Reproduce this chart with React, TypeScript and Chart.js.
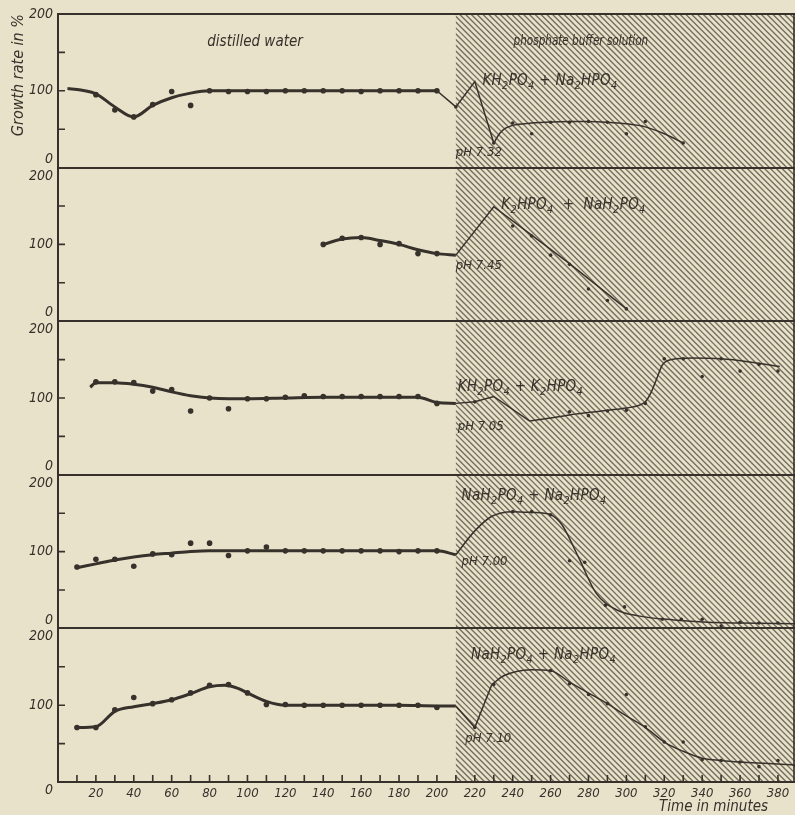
import React, { useEffect, useRef } from 'react';
import { Chart, registerables } from 'chart.js';

Chart.register(...registerables);

const INK = '#36312a';
const PAPER = '#e8e2cb';
const HATCH_LINE = 'rgba(95,90,75,0.85)';
const FONT = '"Liberation Sans Narrow", "DejaVu Sans Condensed", "Liberation Sans", sans-serif';
const HATCH_START = 210;

// x-axis tick values (minutes)
const xTickStep = 10;
const xLabelEvery = 20;
const xMax = 389;

// ---------- Panel 1: KH2PO4 + Na2HPO4, pH 7.32 ----------
const p1PointT = [20, 30, 40, 50, 60, 70, 80, 90, 100, 110, 120, 130, 140, 150, 160, 170, 180, 190, 200, 210, 230, 240, 250, 260, 270, 280, 290, 300, 310, 330];
const p1PointV = [95, 75, 66, 82, 99, 81, 100, 99, 99, 99, 100, 100, 100, 100, 99, 100, 100, 100, 100, 79, 32, 58, 44, 59, 59, 60, 59, 44, 60, 32];
const p1LeftT = [5, 12, 20, 30, 40, 50, 60, 70, 80, 100, 120, 140, 160, 180, 200];
const p1LeftV = [103, 101, 96, 79, 66, 81, 91, 97, 100, 100, 100, 100, 100, 100, 100];
const p1KinkT = [200, 210, 220, 230];
const p1KinkV = [100, 79, 112, 32];
const p1RightT = [230, 233, 236, 240, 250, 260, 270, 280, 290, 300, 310, 320, 330];
const p1RightV = [32, 44, 51, 55, 58, 59.5, 60, 60, 59, 57, 53, 44, 32];

// ---------- Panel 2: K2HPO4 + NaH2PO4, pH 7.45 ----------
const p2PointT = [140, 150, 160, 170, 180, 190, 200, 240, 250, 260, 270, 280, 290, 300];
const p2PointV = [100, 108, 109, 100, 101, 88, 88, 124, 111, 86, 74, 42, 27, 16];
const p2LeftT = [140, 150, 160, 170, 180, 190, 200, 210];
const p2LeftV = [100, 107, 109, 105, 100, 93, 88, 86];
const p2KinkT = [210, 230, 250, 270, 300];
const p2KinkV = [86, 149, 112, 75, 16];

// ---------- Panel 3: KH2PO4 + K2HPO4, pH 7.05 ----------
const p3PointT = [20, 30, 40, 50, 60, 70, 80, 90, 100, 110, 120, 130, 140, 150, 160, 170, 180, 190, 200, 220, 270, 280, 290, 300, 310, 320, 330, 340, 350, 360, 370, 380];
const p3PointV = [121, 121, 120, 109, 111, 83, 100, 86, 99, 99, 101, 103, 102, 102, 102, 102, 102, 102, 93, 95, 82, 77, 83, 84, 93, 151, 151, 128, 151, 135, 144, 135];
const p3LeftT = [17, 20, 30, 40, 50, 60, 70, 80, 90, 100, 120, 140, 160, 180, 190, 200, 210];
const p3LeftV = [114, 120, 120, 118, 114, 108, 103, 100, 99, 99, 100, 101, 101, 101, 101, 94, 93];
const p3KinkT = [210, 220, 230, 249];
const p3KinkV = [93, 95, 102, 70];
const p3RightT = [249, 260, 270, 280, 290, 300, 306, 310, 313, 316, 319, 324, 335, 350, 365, 381];
const p3RightV = [70, 74, 78, 81, 84, 87, 90, 95, 107, 125, 143, 150, 152, 151, 147, 141];

// ---------- Panel 4: NaH2PO4 + Na2HPO4, pH 7.00 ----------
const p4PointT = [10, 20, 30, 40, 50, 60, 70, 80, 90, 100, 110, 120, 130, 140, 150, 160, 170, 180, 190, 200, 240, 250, 260, 270, 278, 289, 299, 319, 329, 340, 350, 360, 370, 380];
const p4PointV = [80, 90, 90, 81, 97, 96, 111, 111, 95, 101, 106, 101, 101, 101, 101, 101, 101, 100, 101, 101, 152, 152, 148, 88, 86, 30, 28, 12, 12, 12, 3, 8, 7, 7];
const p4LeftT = [10, 20, 30, 40, 50, 60, 70, 80, 100, 120, 140, 160, 180, 200, 210];
const p4LeftV = [79, 84, 89, 93, 96, 98, 100, 101, 101, 101, 101, 101, 101, 101, 96];
const p4RightT = [210, 220, 229, 240, 250, 260, 266, 270, 276, 284, 295, 307, 325, 343, 360, 389];
const p4RightV = [96, 127, 146, 152, 151, 148, 135, 117, 86, 46, 24, 16, 11, 8, 7, 6];

// ---------- Panel 5: NaH2PO4 + Na2HPO4, pH 7.10 ----------
const p5PointT = [10, 20, 30, 40, 50, 60, 70, 80, 90, 100, 110, 120, 130, 140, 150, 160, 170, 180, 190, 200, 220, 230, 260, 270, 280, 290, 300, 310, 320, 330, 340, 350, 360, 370, 380];
const p5PointV = [71, 71, 94, 110, 102, 107, 116, 126, 127, 116, 101, 101, 100, 100, 100, 100, 100, 100, 100, 97, 71, 127, 145, 128, 114, 102, 114, 72, 52, 52, 29, 28, 26, 20, 28];
const p5LeftT = [10, 20, 30, 40, 50, 60, 70, 80, 88, 95, 100, 110, 120, 140, 160, 180, 200, 210];
const p5LeftV = [71, 72, 92, 98, 102, 107, 115, 124, 126, 122, 116, 105, 100, 100, 100, 100, 99, 99];
const p5KinkT = [210, 220, 229];
const p5KinkV = [99, 71, 127];
const p5RightT = [229, 235, 242, 250, 260, 270, 282, 290, 300, 310, 320, 330, 340, 350, 360, 375, 389];
const p5RightV = [127, 138, 144, 146, 145, 130, 113, 102, 86, 71, 52, 40, 31, 28, 26, 24, 22];

// Text
const headerLeft = 'distilled water';
const headerRight = 'phosphate buffer solution';
const saltLabels = ['KH_2PO_4 + Na_2HPO_4', 'K_2HPO_4  +  NaH_2PO_4', 'KH_2PO_4 + K_2HPO_4', 'NaH_2PO_4 + Na_2HPO_4', 'NaH_2PO_4 + Na_2HPO_4'];
const phLabels = ['pH 7.32', 'pH 7.45', 'pH 7.05', 'pH 7.00', 'pH 7.10'];
const yTitle = 'Growth rate in %';
const xTitle = 'Time in minutes';

// label anchors in data coordinates (minutes, growth %)
const saltAnchor = [[224, 112], [234, 151], [211, 114], [213, 172], [218, 165]];
const phAnchor = [[210, 19], [210, 73], [211, 63], [213, 87], [215, 56]];

const zip = (t: number[], v: number[]) => t.map((x, i) => ({ x, y: v[i] }));

type Curve = { t: number[]; v: number[]; smooth: boolean; thin: boolean };
const panels: { points: [number[], number[]]; curves: Curve[] }[] = [
  {
    points: [p1PointT, p1PointV],
    curves: [
      { t: p1LeftT, v: p1LeftV, smooth: true, thin: false },
      { t: p1KinkT, v: p1KinkV, smooth: false, thin: true },
      { t: p1RightT, v: p1RightV, smooth: true, thin: true },
    ],
  },
  {
    points: [p2PointT, p2PointV],
    curves: [
      { t: p2LeftT, v: p2LeftV, smooth: true, thin: false },
      { t: p2KinkT, v: p2KinkV, smooth: false, thin: true },
    ],
  },
  {
    points: [p3PointT, p3PointV],
    curves: [
      { t: p3LeftT, v: p3LeftV, smooth: true, thin: false },
      { t: p3KinkT, v: p3KinkV, smooth: false, thin: true },
      { t: p3RightT, v: p3RightV, smooth: true, thin: true },
    ],
  },
  {
    points: [p4PointT, p4PointV],
    curves: [
      { t: p4LeftT, v: p4LeftV, smooth: true, thin: false },
      { t: p4RightT, v: p4RightV, smooth: true, thin: true },
    ],
  },
  {
    points: [p5PointT, p5PointV],
    curves: [
      { t: p5LeftT, v: p5LeftV, smooth: true, thin: false },
      { t: p5KinkT, v: p5KinkV, smooth: false, thin: true },
      { t: p5RightT, v: p5RightV, smooth: true, thin: true },
    ],
  },
];

function drawRich(ctx: CanvasRenderingContext2D, text: string, x: number, y: number, size: number) {
  let cx = x;
  for (let i = 0; i < text.length; i++) {
    let c = text[i];
    let sub = false;
    if (c === '_' && i + 1 < text.length) {
      c = text[i + 1];
      i++;
      sub = true;
    }
    const s = sub ? size * 0.72 : size;
    ctx.font = `italic ${s}px ${FONT}`;
    ctx.fillText(c, cx, sub ? y + size * 0.32 : y);
    cx += ctx.measureText(c).width + (sub ? 0.5 : 0.3);
  }
}

function drawSqueezed(ctx: CanvasRenderingContext2D, text: string, x: number, y: number, size: number, squeeze: number) {
  ctx.save();
  ctx.translate(x, y);
  ctx.scale(squeeze, 1);
  ctx.font = `italic ${size}px ${FONT}`;
  ctx.fillText(text, 0, 0);
  ctx.restore();
}

const paperPlugin = {
  id: 'paper',
  beforeDraw(chart: any) {
    const { ctx, chartArea: a, scales } = chart;
    ctx.save();
    ctx.fillStyle = PAPER;
    ctx.fillRect(0, 0, chart.width, chart.height);
    const x0 = scales.x.getPixelForValue(HATCH_START);
    ctx.beginPath();
    ctx.rect(x0, a.top, a.right - x0, a.bottom - a.top);
    ctx.clip();
    ctx.beginPath();
    ctx.strokeStyle = HATCH_LINE;
    ctx.lineWidth = 1.4;
    const h = a.bottom - a.top;
    for (let sx = x0 - h; sx < a.right + 2; sx += 5.8) {
      ctx.moveTo(sx, a.top);
      ctx.lineTo(sx + h, a.bottom);
    }
    ctx.stroke();
    ctx.restore();
  },
  afterDraw(chart: any) {
    const { ctx, chartArea: a, scales } = chart;
    const xs = scales.x;
    ctx.save();
    ctx.strokeStyle = INK;
    ctx.fillStyle = INK;
    ctx.lineWidth = 1.6;
    ctx.beginPath();
    // inner y ticks
    for (let p = 0; p < 5; p++) {
      const ys = scales['y' + p];
      for (const v of [50, 100, 150]) {
        const py = ys.getPixelForValue(v);
        ctx.moveTo(a.left, py);
        ctx.lineTo(a.left + 7, py);
      }
    }
    // inner x ticks
    for (let t = xTickStep; t <= xMax; t += xTickStep) {
      const px = xs.getPixelForValue(t);
      ctx.moveTo(px, a.bottom);
      ctx.lineTo(px, a.bottom - 7);
    }
    // right frame
    ctx.moveTo(a.right - 1, a.top);
    ctx.lineTo(a.right - 1, a.bottom);
    ctx.stroke();

    // headers
    const y0 = scales.y0;
    ctx.textBaseline = 'middle';
    ctx.textAlign = 'center';
    drawSqueezed(ctx, headerLeft, xs.getPixelForValue(104), y0.getPixelForValue(164), 15, 1);
    drawSqueezed(ctx, headerRight, xs.getPixelForValue(276), y0.getPixelForValue(164), 14.5, 0.8);

    ctx.textAlign = 'left';
    for (let p = 0; p < 5; p++) {
      const ys = scales['y' + p];
      drawRich(ctx, saltLabels[p], xs.getPixelForValue(saltAnchor[p][0]), ys.getPixelForValue(saltAnchor[p][1]), 15);
      drawSqueezed(ctx, phLabels[p], xs.getPixelForValue(phAnchor[p][0]), ys.getPixelForValue(phAnchor[p][1]), 13, 1);
    }

    // x title
    ctx.textAlign = 'center';
    drawSqueezed(ctx, xTitle, xs.getPixelForValue(346), a.bottom + 25, 15, 1);
    ctx.restore();
  },
};

function yLabel(v: number, p: number): string | string[] {
  if (v === 200) return p === 0 ? '200' : ['', '200'];
  if (v === 100) return '100';
  if (v === 0) return p === 4 ? ['', '0'] : ['0', ''];
  return '';
}

function buildConfig(): any {
  const datasets: any[] = [];
  panels.forEach((panel, p) => {
    const yAxisID = 'y' + p;
    datasets.push({
      type: 'line',
      data: zip(panel.points[0], panel.points[1]),
      yAxisID,
      xAxisID: 'x',
      showLine: false,
      pointRadius: (c: any) => (c.raw && c.raw.x >= HATCH_START ? 1.8 : 2.8),
      pointBackgroundColor: INK,
      pointBorderWidth: 0,
    });
    panel.curves.forEach((c) => {
      datasets.push({
        type: 'line',
        data: zip(c.t, c.v),
        yAxisID,
        xAxisID: 'x',
        borderColor: INK,
        borderWidth: c.thin ? 1.5 : 3,
        pointRadius: 0,
        tension: 0,
        cubicInterpolationMode: c.smooth ? 'monotone' : 'default',
        fill: false,
      });
    });
  });

  const scales: any = {
    x: {
      type: 'linear',
      position: 'bottom',
      min: 0,
      max: xMax,
      ticks: {
        stepSize: xTickStep,
        includeBounds: false,
        autoSkip: false,
        maxRotation: 0,
        padding: 4,
        color: INK,
        font: { family: FONT, size: 13, style: 'italic' },
        callback: (v: number) => (v % xLabelEvery === 0 && v !== 0 ? String(v) : ''),
      },
      grid: { display: false, drawTicks: false },
      border: { display: true, color: INK, width: 2 },
      afterFit: (s: any) => {
        s.height = 33;
        s.paddingLeft = 0;
        s.paddingRight = 0;
      },
    },
  };
  for (let p = 0; p < 5; p++) {
    scales['y' + p] = {
      type: 'linear',
      position: 'left',
      stack: 'panels',
      stackWeight: 1,
      weight: 5 - p,
      min: 0,
      max: 200,
      ticks: {
        stepSize: 50,
        padding: 5,
        color: INK,
        font: { family: FONT, size: 14, style: 'italic' },
        callback: (v: number) => yLabel(v, p),
      },
      grid: {
        drawTicks: false,
        lineWidth: 2,
        color: (c: any) => (c.tick && (c.tick.value === 0 || c.tick.value === 200) ? INK : 'rgba(0,0,0,0)'),
      },
      border: { display: true, color: INK, width: 2 },
      title:
        p === 0
          ? {
              display: true,
              text: yTitle,
              align: 'end',
              color: INK,
              font: { family: FONT, size: 16, style: 'italic' },
              padding: { top: 9, bottom: 0 },
            }
          : { display: false },
      afterFit: (s: any) => {
        s.width = 58;
        s.paddingTop = 0;
        s.paddingBottom = 0;
      },
    };
  }

  return {
    type: 'line',
    data: { datasets },
    options: {
      responsive: false,
      maintainAspectRatio: false,
      animation: false,
      events: [],
      layout: { autoPadding: false, padding: { top: 14, left: 0, right: 0, bottom: 0 } },
      plugins: { legend: { display: false }, tooltip: { enabled: false } },
      scales,
    },
    plugins: [paperPlugin],
  };
}

export default function App() {
  const ref = useRef<HTMLCanvasElement>(null);
  useEffect(() => {
    document.body.style.margin = '0';
    document.body.style.background = PAPER;
    const chart = new Chart(ref.current as HTMLCanvasElement, buildConfig());
    return () => chart.destroy();
  }, []);
  return (
    <div style={{ width: 795, height: 815 }}>
      <canvas ref={ref} width={795} height={815} style={{ width: 795, height: 815, display: 'block' }} />
    </div>
  );
}
